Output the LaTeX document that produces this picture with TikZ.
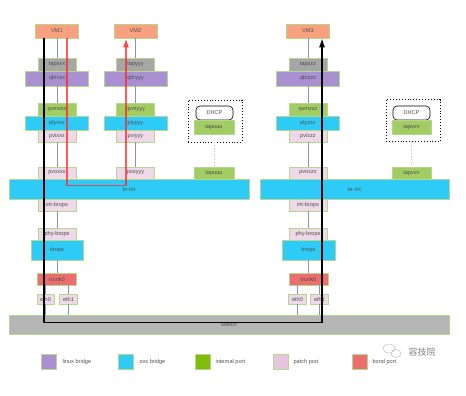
\documentclass[tikz,border=0pt]{standalone}
\usepackage{fontspec}
\setmainfont{Liberation Sans}
\newfontfamily\cjk{Noto Sans CJK SC}
\usetikzlibrary{arrows.meta}
\definecolor{rim}{HTML}{B5D68E}
\definecolor{txt}{HTML}{505050}
\definecolor{vmc}{HTML}{F9A07E}
\definecolor{tapc}{HTML}{A6A6A6}
\definecolor{lbc}{HTML}{A990D0}
\definecolor{obc}{HTML}{2ECBF7}
\definecolor{intc}{HTML}{A2CC64}
\definecolor{intleg}{HTML}{80BC0C}
\definecolor{patc}{HTML}{EFD9E8}
\definecolor{patleg}{HTML}{E8C5DE}
\definecolor{bondc}{HTML}{EC6D6D}
\definecolor{swc}{HTML}{B5B5B5}
\definecolor{wirec}{HTML}{8595B8}
\definecolor{leakc}{HTML}{F4B183}

\begin{document}
\begin{tikzpicture}[x=1pt, y=-1pt,
    box/.style = {draw=rim, line width=0.8pt, inner sep=0pt, text=txt, font=\fontsize{5.6}{6.5}\selectfont},
    vm/.style = {box, fill=vmc, minimum width=43pt, minimum height=14pt},
    port/.style = {box, minimum width=38pt, minimum height=12pt},
    tap/.style = {port, fill=tapc, minimum height=13pt},
    qvm/.style = {port, fill=intc, minimum height=13pt},
    patch/.style = {port, fill=patc},
    lbr/.style = {box, fill=lbc, minimum width=63pt, minimum height=15pt},
    obr/.style = {box, fill=obc, minimum width=63pt, minimum height=14pt},
    eth/.style = {box, fill=patc, minimum width=18pt, minimum height=10pt},
    grp/.style = {draw, dotted, line width=0.9pt, minimum width=54pt, minimum height=42pt},
    dhcp/.style = {draw, rounded corners=4pt, line width=0.6pt, fill=white, text=txt,
        font=\fontsize{5.6}{6.5}\selectfont, minimum width=37pt, minimum height=14pt},
    swatch/.style = {draw=rim, line width=0.8pt, minimum size=15pt, inner sep=0pt},
    legtxt/.style = {anchor=west, text=txt, font=\fontsize{5.6}{6.5}\selectfont},
    wire/.style = {draw=wirec, line width=0.6pt},
    leak/.style = {draw=leakc, dotted, line width=0.8pt},
    flow/.style = {line width=1.1pt, -{Latex[length=9pt,width=6pt]}}]

    \useasboundingbox (0,0) rectangle (466,396);

    % VM1
    \node[vm] (vm1) at (57,31) {VM1};
    \node[tap] (tap1) at (57,64.5) {tapxxx};
    \node[lbr] (qbr1) at (57,78.5) {qbrxxx};
    \node[qvm] (qvm1) at (57,109.5) {qvmxxx};
    \node[obr] (ply1) at (57,123) {plyxxx};
    \node[patch] (pvi1) at (57,136) {pvixxx};
    \node[patch] (pvo1) at (57,173) {pvoxxx};

    % VM2
    \node[vm] (vm2) at (135.5,31) {VM2};
    \node[tap] (tap2) at (135.5,64.5) {tapyyy};
    \node[lbr] (qbr2) at (135.5,78.5) {qbryyy};
    \node[qvm] (qvm2) at (135.5,109.5) {qvmyyy};
    \node[obr] (ply2) at (135.5,123) {plyyyy};
    \node[patch] (pvi2) at (135.5,136) {pviyyy};
    \node[patch] (pvo2) at (135.5,173) {pvoyyy};

    % VM3
    \node[vm] (vm3) at (308,31) {VM3};
    \node[tap] (tap3) at (308,64.5) {tapzzz};
    \node[lbr] (qbr3) at (308,78.5) {qbrzzz};
    \node[qvm] (qvm3) at (308,109.5) {qvmzzz};
    \node[obr] (ply3) at (308,123) {plyzzz};
    \node[patch] (pvi3) at (308,136) {pvizzz};
    \node[patch] (pvo3) at (308,173) {pvozzz};

    % dhcp
    \node[grp] (grp1) at (215,121) {};
    \node[dhcp] (dhcp1) at (214.5,113) {DHCP};
    \node[qvm, minimum width=40pt, minimum height=14pt] (tapu1) at (214,127) {tapuuu};
    \node[qvm, minimum width=40pt, minimum height=12pt] (tapu2) at (214,173) {tapuuu};
    \node[grp] (grp2) at (413,120.5) {};
    \node[dhcp] (dhcp2) at (411.5,113) {DHCP};
    \node[qvm, minimum width=39pt, minimum height=14pt] (tapv1) at (411.5,127) {tapvvv};
    \node[qvm, minimum width=39pt, minimum height=12pt] (tapv2) at (411.5,173) {tapvvv};

    % br-int
    \node[box, fill=obc, minimum width=240pt, minimum height=20pt] (brint1) at (129,189) {br-int};
    \node[box, fill=obc, minimum width=189pt, minimum height=20pt] (brint2) at (354.5,189) {br-int};

    % host 1
    \node[patch] (intbr1) at (57,205) {int-brops};
    \node[patch] (phybr1) at (57,234) {phy-brops};
    \node[box, fill=obc, minimum width=52pt, minimum height=20pt] (brps1) at (57,250) {brops};
    \node[port, fill=bondc, minimum width=39pt] (trunk1) at (57,279) {trunk0};
    \node[eth, minimum width=17pt] (etha1) at (45.5,299) {eth0};
    \node[eth] (ethb1) at (68.5,299) {eth1};

    % host 2
    \node[patch] (intbr2) at (308,205) {int-brops};
    \node[patch] (phybr2) at (308,234) {phy-brops};
    \node[box, fill=obc, minimum width=53pt, minimum height=20pt] (brps2) at (308.5,250) {brops};
    \node[port, fill=bondc, minimum width=39pt] (trunk2) at (308.5,279) {trunk0};
    \node[eth] (etha2) at (297.5,299) {eth0};
    \node[eth] (ethb2) at (319.5,299) {eth1};

    \node[box, fill=swc, minimum width=440pt, minimum height=19pt] (sw) at (229,324.5) {switch};

    % links
    \path[wire] (vm1) -- (tap1) (qbr1) -- (qvm1) (pvi1) -- (pvo1)
        (vm2) -- (tap2) (qbr2) -- (qvm2) (pvi2) -- (pvo2)
        (vm3) -- (tap3) (qbr3) -- (qvm3) (pvi3) -- (pvo3)
        (intbr1) -- (phybr1) (brps1) -- (trunk1)
        (intbr2) -- (phybr2) (brps2) -- (trunk2);
    \path[wire] (etha1 |- trunk1.south) -- (etha1) (ethb1 |- trunk1.south) -- (ethb1)
        (etha1) -- (etha1 |- sw.north) (ethb1) -- (ethb1 |- sw.north)
        (etha2 |- trunk2.south) -- (etha2) (ethb2 |- trunk2.south) -- (ethb2)
        (etha2) -- (etha2 |- sw.north) (ethb2) -- (ethb2 |- sw.north);
    \path[leak] (tapu1 |- grp1.south) -- (tapu2);
    \path[leak] (tapv1 |- grp2.south) -- (tapv2);

    % traffic
    \draw[flow, draw=red!85, opacity=0.75] ([xshift=10pt]vm1.south) -- ++(0,147) -| ([xshift=-9.5pt]vm2.south);
    \draw[flow, black] ([xshift=-13pt]vm1.south) -- ++(0,284) -| ([xshift=14pt]vm3.south);

    % legend
    \node[swatch, fill=lbc] (leg1) at (48.5,361.5) {};
    \node[legtxt] at (59,362) {linux bridge};
    \node[swatch, fill=obc] (leg2) at (125.5,361.5) {};
    \node[legtxt] at (136,362) {ovs bridge};
    \node[swatch, fill=intleg] (leg3) at (202.5,361.5) {};
    \node[legtxt] at (212,362) {internal port};
    \node[swatch, fill=patleg] (leg4) at (280.5,361.5) {};
    \node[legtxt] at (290,362) {patch port};
    \node[swatch, fill=bondc] (leg5) at (359.5,361.5) {};
    \node[legtxt] at (369,362) {bond port};

    % watermark
    \draw[gray!50, line width=0.5pt] (389,348.5) ellipse (6 and 4.5) (396,353.5) ellipse (5 and 4);
    \node[text=gray, font=\cjk\fontsize{9}{10}\selectfont] (mark) at (422,352) {容技院};
\end{tikzpicture}
\end{document}
